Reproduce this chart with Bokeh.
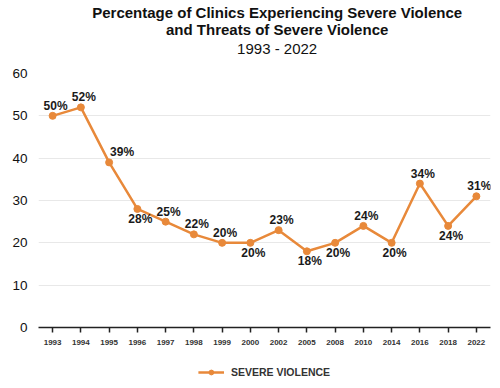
from bokeh.plotting import figure
from bokeh.layouts import column
from bokeh.models import ColumnDataSource, Label, Legend, LegendItem, FixedTicker
from bokeh.embed import file_html
from bokeh.resources import INLINE
from bokeh.core.properties import value

years = ["1993", "1994", "1995", "1996", "1997", "1998", "1999", "2000",
         "2002", "2005", "2008", "2010", "2014", "2016", "2018", "2022"]
severe = [50, 52, 39, 28, 25, 22, 20, 20, 23, 18, 20, 24, 20, 34, 24, 31]
placement = ["above", "above", "right", "below", "above", "above", "above", "below",
             "above", "below", "below", "above", "below", "above", "below", "above"]
title_lines = ["Percentage of Clinics Experiencing Severe Violence",
               "and Threats of Severe Violence",
               "1993 - 2022"]
series_name = "SEVERE VIOLENCE"

ORANGE = "#E8893A"
FONT = "Liberation Sans"
W = 500

# ---- title strip ----
tf = figure(width=W, height=60, x_range=(0, W), y_range=(0, 60),
            output_backend="svg", toolbar_location=None,
            x_axis_location=None, y_axis_location=None,
            min_border=0, outline_line_color=None)
tf.grid.visible = False
for txt, y, size, style in zip(title_lines, [48, 31, 12],
                               ["15px", "15px", "15px"],
                               ["bold", "bold", "normal"]):
    tf.add_layout(Label(x=264, y=y, text=txt, text_align="center",
                        text_baseline="middle", text_font=FONT,
                        text_font_size=size, text_font_style=style,
                        text_color="#111111"))

# ---- main chart ----
labels = [f"{v}%" for v in severe]
xoff = [13 if p == "right" else 3 for p in placement]
yoff = [-10 if p in ("above", "right") else 10 for p in placement]
src = ColumnDataSource(dict(x=years, y=severe, lab=labels, xo=xoff, yo=yoff))

p = figure(x_range=years, y_range=(0, 60), width=W, height=296,
           output_backend="svg", toolbar_location=None,
           min_border_left=38, min_border_right=10, min_border_top=13,
           min_border_bottom=29)
p.outline_line_color = None

line = p.line("x", "y", source=src, line_color=ORANGE, line_width=2.5)
pts = p.scatter("x", "y", source=src, size=7, fill_color=ORANGE, line_color=ORANGE)

p.text("x", "y", text="lab", source=src, x_offset="xo", y_offset="yo",
       text_align="center", text_baseline="middle",
       text_font=value(FONT), text_font_size="12px", text_font_style="bold",
       text_color="#1a1a1a")

p.yaxis.ticker = FixedTicker(ticks=[0, 10, 20, 30, 40, 50, 60])
p.yaxis.axis_line_color = None
p.yaxis.major_tick_line_color = None
p.yaxis.major_tick_out = 0
p.yaxis.major_tick_in = 0
p.yaxis.minor_tick_line_color = None
p.yaxis.major_label_text_font = FONT
p.yaxis.major_label_text_font_size = "13.5px"
p.yaxis.major_label_text_color = "#111111"
p.yaxis.major_label_standoff = 11

p.xaxis.axis_line_color = "#222222"
p.xaxis.axis_line_width = 1.5
p.xaxis.major_tick_line_color = "#222222"
p.xaxis.major_tick_line_width = 1.5
p.xaxis.major_tick_out = 5
p.xaxis.major_tick_in = 0
p.xaxis.major_label_text_font = FONT
p.xaxis.major_label_text_font_size = "8px"
p.xaxis.major_label_text_font_style = "bold"
p.xaxis.major_label_text_color = "#333333"
p.xaxis.major_label_standoff = 7

p.xgrid.grid_line_color = None
p.ygrid.grid_line_color = "#e8e8e8"
p.ygrid.grid_line_width = 1

# ---- legend strip (series glyphs drawn out of view; only the legend shows) ----
lf = figure(width=W, height=32, x_range=years, y_range=(100, 101),
            output_backend="svg", toolbar_location=None,
            x_axis_location=None, y_axis_location=None,
            min_border=0, min_border_left=20, outline_line_color=None)
lf.grid.visible = False
lline = lf.line("x", "y", source=src, line_color=ORANGE, line_width=2.5)
lpts = lf.scatter("x", "y", source=src, size=7, fill_color=ORANGE, line_color=ORANGE)
legend = Legend(items=[LegendItem(label=series_name, renderers=[lline, lpts])],
                orientation="horizontal", location="center",
                label_text_font=FONT, label_text_font_size="10.5px",
                label_text_font_style="bold", label_text_color="#333333",
                border_line_color=None, background_fill_alpha=0,
                glyph_width=26, glyph_height=12, label_height=12,
                label_standoff=7, margin=0, padding=2)
lf.add_layout(legend, "center")

layout = column(tf, p, lf, spacing=0)
open("out.html", "w").write(file_html(layout, INLINE))
